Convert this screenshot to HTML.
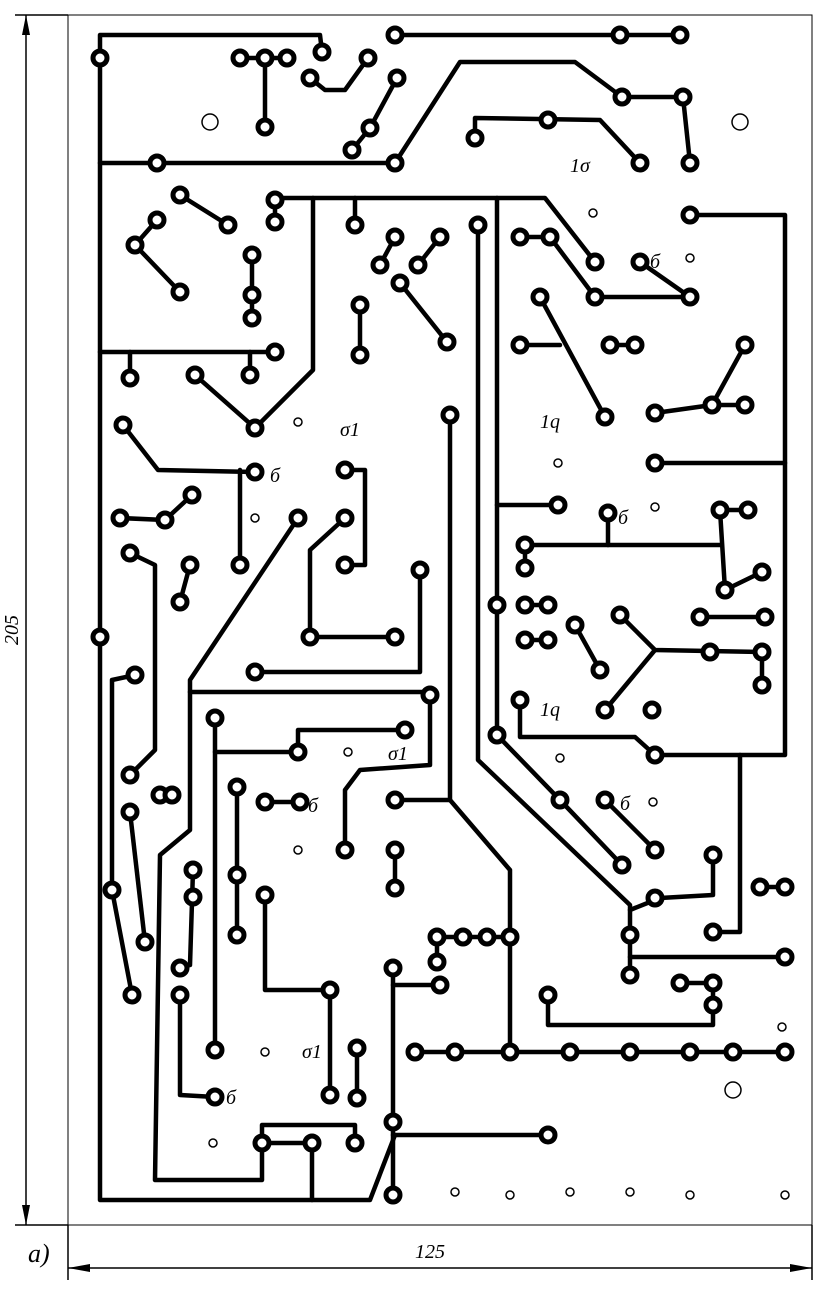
<!DOCTYPE html>
<html><head><meta charset="utf-8"><style>
html,body{margin:0;padding:0;background:#fff;}
svg{display:block;}
</style></head><body>
<svg width="827" height="1289" viewBox="0 0 827 1289" xmlns="http://www.w3.org/2000/svg">
<rect x="68" y="15" width="744" height="1210" fill="none" stroke="#000" stroke-width="1"/>
<!-- dimensions -->
<g stroke="#000" stroke-width="1.5" fill="none">
<line x1="26" y1="15" x2="26" y2="1225"/>
<line x1="15" y1="15" x2="68" y2="15"/>
<line x1="15" y1="1225" x2="68" y2="1225"/>
<line x1="68" y1="1268" x2="812" y2="1268"/>
<line x1="68" y1="1225" x2="68" y2="1280"/>
<line x1="812" y1="1225" x2="812" y2="1280"/>
</g>
<polygon points="26,15 22,35 30,35" fill="#000"/>
<polygon points="26,1225 22,1205 30,1205" fill="#000"/>
<polygon points="68,1268 90,1264 90,1272" fill="#000"/>
<polygon points="812,1268 790,1264 790,1272" fill="#000"/>
<text x="18" y="630" font-family="Liberation Serif" font-style="italic" font-size="20" transform="rotate(-90 18 630)" text-anchor="middle">205</text>
<text x="430" y="1258" font-family="Liberation Serif" font-style="italic" font-size="20" text-anchor="middle">125</text>
<text x="28" y="1262" font-family="Liberation Serif" font-style="italic" font-size="26">а)</text>
<g stroke="#000" stroke-width="4.5" fill="none" stroke-linejoin="round" stroke-linecap="round">
<polyline points="100,58 100,35 320,35 322,52"/>
<polyline points="100,58 100,1200 370,1200 395,1135"/>
<polyline points="100,163 395,163"/>
<polyline points="395,163 460,62 575,62 622,97 683,97 690,163"/>
<polyline points="395,35 680,35"/>
<polyline points="240,58 287,58"/>
<polyline points="265,58 265,127"/>
<polyline points="310,78 325,90 345,90 368,58"/>
<polyline points="352,150 370,128 397,78"/>
<polyline points="475,138 475,118 600,120 640,163"/>
<polyline points="275,198 545,198 595,262"/>
<polyline points="275,198 275,222"/>
<polyline points="520,237 550,237 595,297 690,297"/>
<polyline points="640,262 690,297"/>
<polyline points="690,215 785,215 785,755 655,755 635,737 520,737 520,700"/>
<polyline points="313,198 313,370 255,428"/>
<polyline points="195,375 255,428"/>
<polyline points="100,352 275,352"/>
<polyline points="130,352 130,378"/>
<polyline points="250,352 250,375"/>
<polyline points="180,195 228,225"/>
<polyline points="157,220 135,245 180,292"/>
<polyline points="252,255 252,318"/>
<polyline points="355,198 355,225"/>
<polyline points="395,237 380,265"/>
<polyline points="440,237 418,265"/>
<polyline points="400,283 447,342"/>
<polyline points="360,305 360,355"/>
<polyline points="478,225 478,760 630,905 630,975"/>
<polyline points="497,198 497,735 560,800 622,865"/>
<polyline points="497,505 558,505"/>
<polyline points="540,297 605,417"/>
<polyline points="520,345 560,345"/>
<polyline points="610,345 635,345"/>
<polyline points="655,413 712,405 745,345"/>
<polyline points="712,405 745,405"/>
<polyline points="655,463 785,463"/>
<polyline points="525,545 720,545"/>
<polyline points="608,513 608,545"/>
<polyline points="525,545 525,568"/>
<polyline points="720,510 725,590 762,572"/>
<polyline points="720,510 748,510"/>
<polyline points="700,617 765,617"/>
<polyline points="620,615 655,650 762,652 762,685"/>
<polyline points="655,650 605,710"/>
<polyline points="575,625 600,670"/>
<polyline points="525,605 548,605"/>
<polyline points="525,640 548,640"/>
<polyline points="123,425 158,470 255,472"/>
<polyline points="240,470 240,565"/>
<polyline points="120,518 165,520 192,495"/>
<polyline points="190,565 180,602"/>
<polyline points="130,553 155,565 155,750 130,775"/>
<polyline points="298,518 190,680 190,830 160,855 155,1180 262,1180 262,1125 355,1125 355,1143"/>
<polyline points="262,1143 312,1143"/>
<polyline points="312,1143 312,1200"/>
<polyline points="190,692 430,692"/>
<polyline points="430,695 430,765 360,770 345,790 345,850"/>
<polyline points="345,470 365,470 365,565 345,565"/>
<polyline points="345,518 310,550 310,637 395,637"/>
<polyline points="450,415 450,800 395,800"/>
<polyline points="450,800 510,870 510,1050"/>
<polyline points="255,672 420,672 420,570"/>
<polyline points="215,718 215,1050"/>
<polyline points="215,752 298,752 298,730 405,730"/>
<polyline points="237,787 237,935"/>
<polyline points="265,802 300,802"/>
<polyline points="265,895 265,990 330,990 330,1095"/>
<polyline points="135,675 112,680 112,890 132,995"/>
<polyline points="130,812 145,942"/>
<polyline points="193,870 190,965 180,968"/>
<polyline points="180,995 180,1095 215,1097"/>
<polyline points="395,850 395,888"/>
<polyline points="437,937 510,937"/>
<polyline points="437,937 437,962"/>
<polyline points="393,968 393,1195"/>
<polyline points="393,985 440,985"/>
<polyline points="393,1135 548,1135"/>
<polyline points="415,1052 785,1052"/>
<polyline points="630,957 785,957"/>
<polyline points="630,910 660,898 713,895 713,855"/>
<polyline points="740,755 740,932 713,932"/>
<polyline points="548,995 548,1025 713,1025 713,983 680,983"/>
<polyline points="605,800 655,850"/>
<polyline points="760,887 785,887"/>
<polyline points="357,1048 357,1098"/>
<polyline points="160,795 172,795"/>
</g>
<g stroke="#000" stroke-width="5" fill="#fff">
<circle cx="100" cy="58" r="7"/><circle cx="322" cy="52" r="7"/><circle cx="395" cy="35" r="7"/><circle cx="620" cy="35" r="7"/><circle cx="680" cy="35" r="7"/>
<circle cx="240" cy="58" r="7"/><circle cx="265" cy="58" r="7"/><circle cx="287" cy="58" r="7"/><circle cx="265" cy="127" r="7"/>
<circle cx="310" cy="78" r="7"/><circle cx="368" cy="58" r="7"/><circle cx="397" cy="78" r="7"/><circle cx="370" cy="128" r="7"/><circle cx="352" cy="150" r="7"/>
<circle cx="157" cy="163" r="7"/><circle cx="395" cy="163" r="7"/><circle cx="622" cy="97" r="7"/><circle cx="683" cy="97" r="7"/><circle cx="690" cy="163" r="7"/>
<circle cx="475" cy="138" r="7"/><circle cx="548" cy="120" r="7"/><circle cx="640" cy="163" r="7"/>
<circle cx="275" cy="200" r="7"/><circle cx="275" cy="222" r="7"/><circle cx="180" cy="195" r="7"/><circle cx="228" cy="225" r="7"/>
<circle cx="157" cy="220" r="7"/><circle cx="135" cy="245" r="7"/><circle cx="180" cy="292" r="7"/>
<circle cx="252" cy="255" r="7"/><circle cx="252" cy="295" r="7"/><circle cx="252" cy="318" r="7"/>
<circle cx="355" cy="225" r="7"/><circle cx="395" cy="237" r="7"/><circle cx="380" cy="265" r="7"/><circle cx="440" cy="237" r="7"/><circle cx="418" cy="265" r="7"/>
<circle cx="400" cy="283" r="7"/><circle cx="447" cy="342" r="7"/><circle cx="360" cy="305" r="7"/><circle cx="360" cy="355" r="7"/>
<circle cx="478" cy="225" r="7"/><circle cx="690" cy="215" r="7"/>
<circle cx="520" cy="237" r="7"/><circle cx="550" cy="237" r="7"/><circle cx="595" cy="262" r="7"/><circle cx="640" cy="262" r="7"/>
<circle cx="595" cy="297" r="7"/><circle cx="690" cy="297" r="7"/><circle cx="540" cy="297" r="7"/><circle cx="605" cy="417" r="7"/>
<circle cx="520" cy="345" r="7"/><circle cx="610" cy="345" r="7"/><circle cx="635" cy="345" r="7"/>
<circle cx="655" cy="413" r="7"/><circle cx="712" cy="405" r="7"/><circle cx="745" cy="345" r="7"/><circle cx="745" cy="405" r="7"/>
<circle cx="655" cy="463" r="7"/><circle cx="558" cy="505" r="7"/><circle cx="608" cy="513" r="7"/>
<circle cx="525" cy="545" r="7"/><circle cx="525" cy="568" r="7"/><circle cx="720" cy="510" r="7"/><circle cx="748" cy="510" r="7"/>
<circle cx="725" cy="590" r="7"/><circle cx="762" cy="572" r="7"/>
<circle cx="497" cy="605" r="7"/><circle cx="525" cy="605" r="7"/><circle cx="548" cy="605" r="7"/><circle cx="525" cy="640" r="7"/><circle cx="548" cy="640" r="7"/>
<circle cx="575" cy="625" r="7"/><circle cx="600" cy="670" r="7"/><circle cx="620" cy="615" r="7"/>
<circle cx="700" cy="617" r="7"/><circle cx="765" cy="617" r="7"/><circle cx="710" cy="652" r="7"/><circle cx="762" cy="652" r="7"/><circle cx="762" cy="685" r="7"/>
<circle cx="605" cy="710" r="7"/><circle cx="652" cy="710" r="7"/><circle cx="520" cy="700" r="7"/><circle cx="655" cy="755" r="7"/>
<circle cx="130" cy="378" r="7"/><circle cx="195" cy="375" r="7"/><circle cx="250" cy="375" r="7"/><circle cx="275" cy="352" r="7"/><circle cx="255" cy="428" r="7"/>
<circle cx="123" cy="425" r="7"/><circle cx="255" cy="472" r="7"/><circle cx="240" cy="565" r="7"/>
<circle cx="120" cy="518" r="7"/><circle cx="165" cy="520" r="7"/><circle cx="192" cy="495" r="7"/>
<circle cx="130" cy="553" r="7"/><circle cx="190" cy="565" r="7"/><circle cx="180" cy="602" r="7"/>
<circle cx="100" cy="637" r="7"/><circle cx="298" cy="518" r="7"/>
<circle cx="345" cy="470" r="7"/><circle cx="345" cy="518" r="7"/><circle cx="345" cy="565" r="7"/>
<circle cx="450" cy="415" r="7"/><circle cx="420" cy="570" r="7"/><circle cx="310" cy="637" r="7"/><circle cx="395" cy="637" r="7"/>
<circle cx="255" cy="672" r="7"/><circle cx="430" cy="695" r="7"/><circle cx="497" cy="735" r="7"/>
<circle cx="135" cy="675" r="7"/><circle cx="130" cy="775" r="7"/><circle cx="160" cy="795" r="7"/><circle cx="172" cy="795" r="7"/>
<circle cx="215" cy="718" r="7"/><circle cx="298" cy="752" r="7"/><circle cx="405" cy="730" r="7"/>
<circle cx="237" cy="787" r="7"/><circle cx="265" cy="802" r="7"/><circle cx="300" cy="802" r="7"/>
<circle cx="130" cy="812" r="7"/><circle cx="395" cy="800" r="7"/><circle cx="345" cy="850" r="7"/>
<circle cx="560" cy="800" r="7"/><circle cx="605" cy="800" r="7"/><circle cx="622" cy="865" r="7"/><circle cx="655" cy="850" r="7"/>
<circle cx="395" cy="850" r="7"/><circle cx="395" cy="888" r="7"/><circle cx="237" cy="875" r="7"/><circle cx="193" cy="870" r="7"/><circle cx="193" cy="897" r="7"/>
<circle cx="112" cy="890" r="7"/><circle cx="265" cy="895" r="7"/><circle cx="237" cy="935" r="7"/><circle cx="145" cy="942" r="7"/>
<circle cx="713" cy="855" r="7"/><circle cx="760" cy="887" r="7"/><circle cx="785" cy="887" r="7"/><circle cx="655" cy="898" r="7"/>
<circle cx="630" cy="935" r="7"/><circle cx="713" cy="932" r="7"/><circle cx="630" cy="975" r="7"/><circle cx="785" cy="957" r="7"/>
<circle cx="437" cy="937" r="7"/><circle cx="463" cy="937" r="7"/><circle cx="487" cy="937" r="7"/><circle cx="510" cy="937" r="7"/><circle cx="437" cy="962" r="7"/>
<circle cx="180" cy="968" r="7"/><circle cx="393" cy="968" r="7"/><circle cx="440" cy="985" r="7"/><circle cx="132" cy="995" r="7"/><circle cx="180" cy="995" r="7"/>
<circle cx="330" cy="990" r="7"/><circle cx="548" cy="995" r="7"/><circle cx="680" cy="983" r="7"/><circle cx="713" cy="983" r="7"/><circle cx="713" cy="1005" r="7"/>
<circle cx="215" cy="1050" r="7"/><circle cx="357" cy="1048" r="7"/>
<circle cx="415" cy="1052" r="7"/><circle cx="455" cy="1052" r="7"/><circle cx="510" cy="1052" r="7"/><circle cx="570" cy="1052" r="7"/><circle cx="630" cy="1052" r="7"/><circle cx="690" cy="1052" r="7"/><circle cx="733" cy="1052" r="7"/><circle cx="785" cy="1052" r="7"/>
<circle cx="330" cy="1095" r="7"/><circle cx="357" cy="1098" r="7"/><circle cx="215" cy="1097" r="7"/>
<circle cx="393" cy="1122" r="7"/><circle cx="548" cy="1135" r="7"/><circle cx="262" cy="1143" r="7"/><circle cx="312" cy="1143" r="7"/><circle cx="355" cy="1143" r="7"/><circle cx="393" cy="1195" r="7"/>
</g>
<g stroke="#000" stroke-width="1.5" fill="#fff">
<circle cx="593" cy="213" r="4"/><circle cx="690" cy="258" r="4"/><circle cx="298" cy="422" r="4"/><circle cx="558" cy="463" r="4"/>
<circle cx="655" cy="507" r="4"/><circle cx="255" cy="518" r="4"/><circle cx="560" cy="758" r="4"/><circle cx="348" cy="752" r="4"/>
<circle cx="298" cy="850" r="4"/><circle cx="653" cy="802" r="4"/><circle cx="265" cy="1052" r="4"/><circle cx="213" cy="1143" r="4"/>
<circle cx="782" cy="1027" r="4"/><circle cx="455" cy="1192" r="4"/><circle cx="510" cy="1195" r="4"/><circle cx="570" cy="1192" r="4"/>
<circle cx="630" cy="1192" r="4"/><circle cx="690" cy="1195" r="4"/><circle cx="785" cy="1195" r="4"/>
<circle cx="210" cy="122" r="8"/><circle cx="740" cy="122" r="8"/><circle cx="733" cy="1090" r="8"/>
</g>
<g font-family="Liberation Serif" font-style="italic" font-size="20" fill="#000">
<text x="570" y="172">1σ</text><text x="650" y="268">б</text><text x="340" y="436">σ1</text><text x="540" y="428">1q</text>
<text x="270" y="482">б</text><text x="618" y="524">б</text><text x="540" y="716">1q</text><text x="388" y="760">σ1</text>
<text x="620" y="810">б</text><text x="308" y="812">б</text><text x="302" y="1058">σ1</text><text x="226" y="1104">б</text>
</g>
</svg>
</body></html>
